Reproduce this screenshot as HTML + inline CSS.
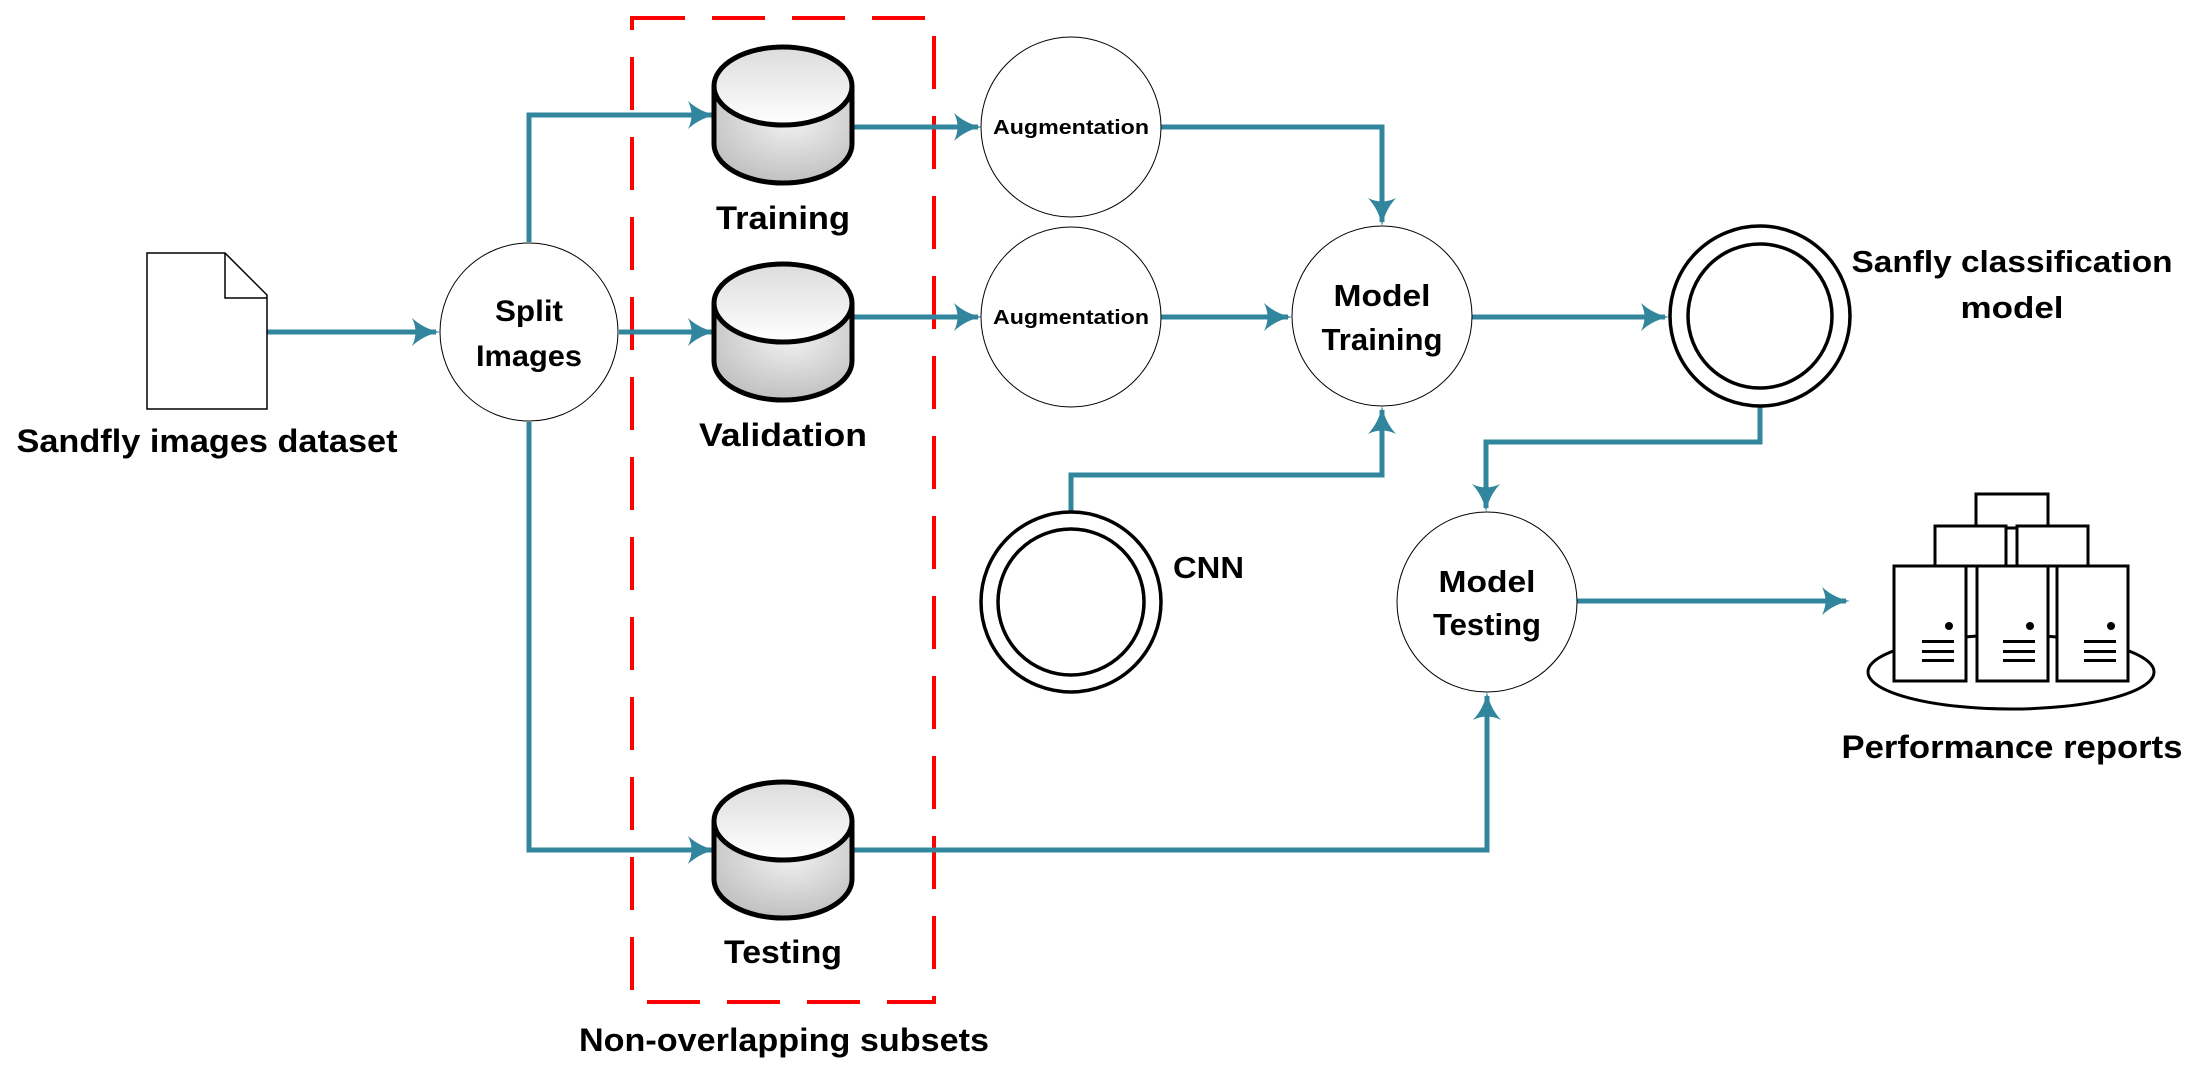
<!DOCTYPE html>
<html><head><meta charset="utf-8"><style>
html,body{margin:0;padding:0;background:#fff;}
svg{display:block;}
text{font-family:"Liberation Sans",sans-serif;font-weight:bold;fill:#000;}
</style></head><body>
<svg width="2202" height="1070" viewBox="0 0 2202 1070" xmlns="http://www.w3.org/2000/svg">
<defs>
<linearGradient id="top" x1="0" y1="0" x2="0" y2="1">
<stop offset="0" stop-color="#dcdcdc"/><stop offset="1" stop-color="#ffffff"/></linearGradient>
<radialGradient id="body" cx="0.55" cy="0.35" r="0.7">
<stop offset="0" stop-color="#f2f2f2"/><stop offset="1" stop-color="#bdbdbd"/></radialGradient>
<path id="ah" d="M0,0 Q-16,-3 -28,-14 Q-21,0 -28,14 Q-16,3 0,0Z" fill="#31859c"/>
</defs>

<!-- red dashed rect -->
<rect x="632" y="18" width="302" height="984" fill="none" stroke="#ff0000" stroke-width="4" stroke-dasharray="53 27"/>

<!-- connectors -->
<g stroke="#31859c" stroke-width="5" fill="none">
<line x1="267" y1="332" x2="436" y2="332"/>
<polyline points="529,242 529,115 712,115"/>
<line x1="619" y1="332" x2="712" y2="332"/>
<polyline points="529,422 529,850 712,850"/>
<line x1="852" y1="127" x2="978" y2="127"/>
<line x1="852" y1="317" x2="978" y2="317"/>
<polyline points="1161,127 1382,127 1382,222"/>
<line x1="1161" y1="317" x2="1288" y2="317"/>
<polyline points="1071,512 1071,475 1382,475 1382,410"/>
<line x1="1472" y1="317" x2="1665" y2="317"/>
<polyline points="1760,407 1760,442 1486,442 1486,508"/>
<polyline points="852,850 1487,850 1487,696"/>
<line x1="1577" y1="601" x2="1846" y2="601"/>
</g>
<!-- arrowheads -->
<use href="#ah" transform="translate(440,332)"/>
<use href="#ah" transform="translate(716,115)"/>
<use href="#ah" transform="translate(716,332)"/>
<use href="#ah" transform="translate(716,850)"/>
<use href="#ah" transform="translate(982,127)"/>
<use href="#ah" transform="translate(982,317)"/>
<use href="#ah" transform="translate(1382,226) rotate(90)"/>
<use href="#ah" transform="translate(1292,317)"/>
<use href="#ah" transform="translate(1382,406) rotate(-90)"/>
<use href="#ah" transform="translate(1669,317)"/>
<use href="#ah" transform="translate(1486,512) rotate(90)"/>
<use href="#ah" transform="translate(1487,692) rotate(-90)"/>
<use href="#ah" transform="translate(1850,601)"/>

<!-- document -->
<path d="M147,253 H225 L267,295 V409 H147 Z" fill="#fff" stroke="#000" stroke-width="1.5"/>
<path d="M225,253 V298 H267" fill="none" stroke="#000" stroke-width="1.5"/>
<text x="207" y="452" font-size="32" text-anchor="middle" textLength="381" lengthAdjust="spacingAndGlyphs">Sandfly images dataset</text>

<!-- split -->
<circle cx="529" cy="332" r="89" fill="#fff" stroke="#000" stroke-width="1"/>
<text x="529" y="321" font-size="30" text-anchor="middle" textLength="68" lengthAdjust="spacingAndGlyphs">Split</text>
<text x="529" y="366" font-size="30" text-anchor="middle" textLength="106" lengthAdjust="spacingAndGlyphs">Images</text>

<!-- cylinders -->
<g stroke="#000" stroke-width="5">
<g transform="translate(0,0)">
<path d="M714,86 V144 A69,39 0 0 0 852,144 V86" fill="url(#body)"/>
<ellipse cx="783" cy="86" rx="69" ry="39" fill="url(#top)"/>
</g>
<g transform="translate(0,217)">
<path d="M714,86 V144 A69,39 0 0 0 852,144 V86" fill="url(#body)"/>
<ellipse cx="783" cy="86" rx="69" ry="39" fill="url(#top)"/>
</g>
<g transform="translate(0,735)">
<path d="M714,86 V144 A69,39 0 0 0 852,144 V86" fill="url(#body)"/>
<ellipse cx="783" cy="86" rx="69" ry="39" fill="url(#top)"/>
</g>
</g>
<text x="783" y="229" font-size="32" text-anchor="middle" textLength="134" lengthAdjust="spacingAndGlyphs">Training</text>
<text x="783" y="446" font-size="32" text-anchor="middle" textLength="168" lengthAdjust="spacingAndGlyphs">Validation</text>
<text x="783" y="963" font-size="32" text-anchor="middle" textLength="118" lengthAdjust="spacingAndGlyphs">Testing</text>
<text x="784" y="1051" font-size="32" text-anchor="middle" textLength="410" lengthAdjust="spacingAndGlyphs">Non-overlapping subsets</text>

<!-- augmentation -->
<circle cx="1071" cy="127" r="90" fill="#fff" stroke="#000" stroke-width="1"/>
<circle cx="1071" cy="317" r="90" fill="#fff" stroke="#000" stroke-width="1"/>
<text x="1071" y="134" font-size="20" text-anchor="middle" textLength="156" lengthAdjust="spacingAndGlyphs">Augmentation</text>
<text x="1071" y="324" font-size="20" text-anchor="middle" textLength="156" lengthAdjust="spacingAndGlyphs">Augmentation</text>

<!-- model training -->
<circle cx="1382" cy="316" r="90" fill="#fff" stroke="#000" stroke-width="1"/>
<text x="1382" y="306" font-size="31" text-anchor="middle" textLength="97" lengthAdjust="spacingAndGlyphs">Model</text>
<text x="1382" y="350" font-size="31" text-anchor="middle" textLength="121" lengthAdjust="spacingAndGlyphs">Training</text>

<!-- CNN -->
<circle cx="1071" cy="602" r="90" fill="#fff" stroke="#000" stroke-width="3.5"/>
<circle cx="1071" cy="602" r="73" fill="#fff" stroke="#000" stroke-width="3.5"/>
<text x="1173" y="578" font-size="31" textLength="71" lengthAdjust="spacingAndGlyphs">CNN</text>

<!-- sanfly model -->
<circle cx="1760" cy="316" r="90" fill="#fff" stroke="#000" stroke-width="3.5"/>
<circle cx="1760" cy="316" r="72" fill="#fff" stroke="#000" stroke-width="3.5"/>
<text x="2012" y="272" font-size="31" text-anchor="middle" textLength="321" lengthAdjust="spacingAndGlyphs">Sanfly classification</text>
<text x="2012" y="318" font-size="31" text-anchor="middle" textLength="103" lengthAdjust="spacingAndGlyphs">model</text>

<!-- model testing -->
<circle cx="1487" cy="602" r="90" fill="#fff" stroke="#000" stroke-width="1"/>
<text x="1487" y="592" font-size="31" text-anchor="middle" textLength="97" lengthAdjust="spacingAndGlyphs">Model</text>
<text x="1487" y="635" font-size="31" text-anchor="middle" textLength="108" lengthAdjust="spacingAndGlyphs">Testing</text>

<!-- servers -->
<g stroke="#000" stroke-width="3" fill="#fff">
<ellipse cx="2011" cy="672" rx="143" ry="37"/>
<rect x="1976" y="494" width="72" height="34"/>
<rect x="1935" y="526" width="71" height="40"/>
<rect x="2017" y="526" width="71" height="40"/>
<rect x="1894" y="566" width="72" height="115"/>
<rect x="1977" y="566" width="71" height="115"/>
<rect x="2057" y="566" width="71" height="115"/>
</g>
<g fill="#000">
<circle cx="1949" cy="626" r="4"/><circle cx="2030" cy="626" r="4"/><circle cx="2111" cy="626" r="4"/>
<rect x="1922" y="640" width="32" height="3"/><rect x="1922" y="650" width="32" height="3"/><rect x="1922" y="659" width="32" height="3"/>
<rect x="2003" y="640" width="32" height="3"/><rect x="2003" y="650" width="32" height="3"/><rect x="2003" y="659" width="32" height="3"/>
<rect x="2084" y="640" width="32" height="3"/><rect x="2084" y="650" width="32" height="3"/><rect x="2084" y="659" width="32" height="3"/>
</g>
<text x="2012" y="758" font-size="32" text-anchor="middle" textLength="341" lengthAdjust="spacingAndGlyphs">Performance reports</text>
</svg>
</body></html>
